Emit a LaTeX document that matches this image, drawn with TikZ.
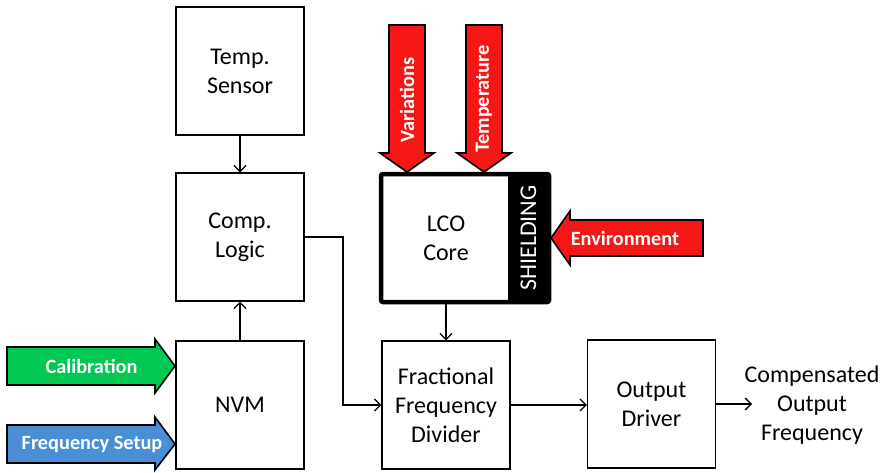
\documentclass[tikz,border=0pt]{standalone}
\usepackage{fontspec}
\setmainfont{Carlito}
\usetikzlibrary{arrows.meta}
\definecolor{hotred}{HTML}{F51616}
\definecolor{calgreen}{HTML}{00C853}
\definecolor{setblue}{HTML}{4A8ED6}
\begin{document}
\begin{tikzpicture}[x=1pt,y=-1pt,
  block/.style={draw, line width=1.3pt, minimum width=128pt, minimum height=128pt,
    inner sep=0pt, align=center, font=\fontsize{24}{29}\selectfont},
  arr/.style={line width=1.3pt, -{Straight Barb[length=6pt,width=12pt]}},
  bigarrow/.style={draw=black, line width=1.6pt, line join=miter},
  arrowtext/.style={text=white, font=\fontsize{20.3}{24}\selectfont\bfseries, inner sep=0pt}]
\useasboundingbox (0,0) rectangle (883,472);

% main blocks
\node[block] (temp) at (240,71) {Temp.\\Sensor};
\node[block] (comp) at (240,237) {Comp.\\Logic};
\node[block] (nvm) at (240,405) {NVM};
\node[block] (ffd) at (446,405) {Fractional\\Frequency\\Divider};
\node[block] (out) at (651.5,404) {Output\\Driver};
\node[align=center, inner sep=0pt, font=\fontsize{24}{29}\selectfont] (result) at (812,405)
  {Compensated\\Output\\Frequency};

% shielded LCO core
\node[draw, line width=4.5pt, rounded corners=2pt, minimum width=168pt, minimum height=128pt,
  inner sep=0pt] (lco) at (465,238) {};
\fill[black] (508,174) rectangle (549,302);
\node[text=white, rotate=90, font=\fontsize{24}{29}\selectfont, inner sep=0pt] (shield) at (528.5,238) {SHIELDING};
\node[align=center, inner sep=0pt, font=\fontsize{24}{29}\selectfont] (lcotext) at (446,238) {LCO\\Core};

% signal connectors
\draw[arr] (temp.south) -- (comp.north);
\draw[arr] (nvm.north) -- (comp.south);
\draw[arr] (comp.east) -- (343,237) |- (ffd.west);
\draw[arr] (lco.south -| ffd.north) -- (ffd.north);
\draw[arr] (ffd.east) -- (ffd.east -| out.west);
\coordinate (resultin) at (752,404);
\draw[arr] (out.east) -- (resultin);

% disturbance arrows into the core
\draw[bigarrow, fill=hotred] (389,25) -- (425,25) -- (425,153) -- (434,153) -- (407,172)
  -- (380,153) -- (389,153) -- cycle;
\node[arrowtext, rotate=90] (variations) at (407,100) {Variations};
\draw[bigarrow, fill=hotred] (466,25) -- (502,25) -- (502,153) -- (511,153) -- (484,172)
  -- (457,153) -- (466,153) -- cycle;
\node[arrowtext, rotate=90] (temperature) at (484,99) {Temperature};
\draw[bigarrow, fill=hotred] (703,220) -- (703,256) -- (570,256) -- (570,265) -- (551,238)
  -- (570,211) -- (570,220) -- cycle;
\node[arrowtext] (environment) at (625,238) {Environment};

% configuration inputs to the NVM
\draw[bigarrow, fill=calgreen] (7,347) -- (155,347) -- (155,339) -- (175,366) -- (155,393)
  -- (155,385) -- (7,385) -- cycle;
\node[arrowtext] (calibration) at (91.5,366) {Calibration};
\draw[bigarrow, fill=setblue] (7,425) -- (155,425) -- (155,417) -- (175,444) -- (155,470)
  -- (155,463) -- (7,463) -- cycle;
\node[arrowtext] (setup) at (92,444) {Frequency Setup};
\end{tikzpicture}
\end{document}
